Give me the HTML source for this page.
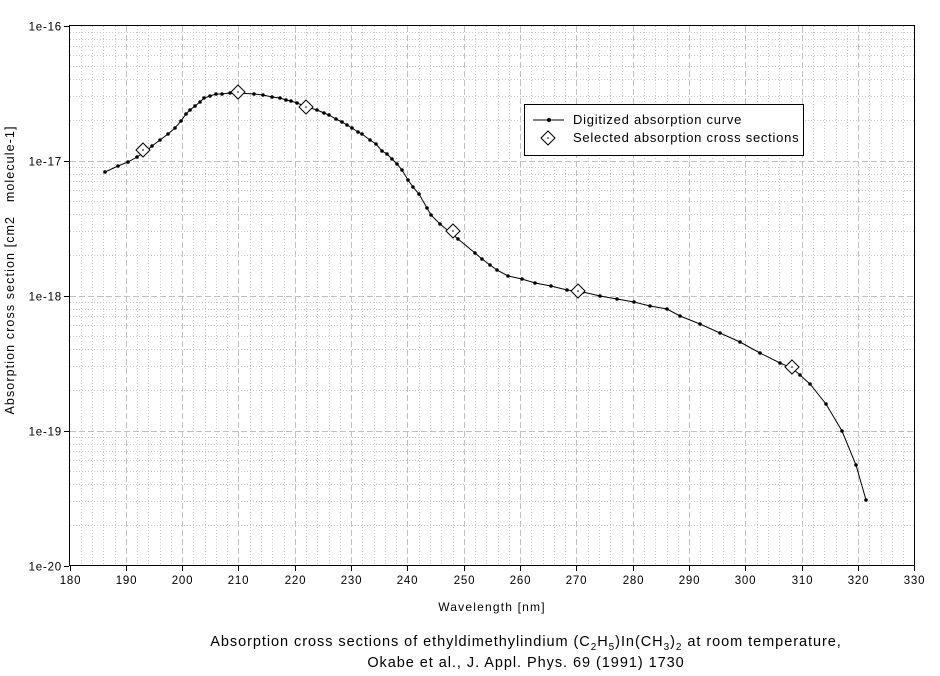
<!DOCTYPE html>
<html><head><meta charset="utf-8"><style>body{margin:0;background:#fff}svg{display:block;font-family:"Liberation Sans",sans-serif}</style></head><body>
<svg id="s" width="940" height="676" xmlns="http://www.w3.org/2000/svg">
<g id="grid"></g>
<rect x="69.5" y="25.5" width="845" height="540" fill="none" stroke="#000" stroke-width="1"/>
<g id="ticks" font-size="11.5" letter-spacing="0.8"></g>
<polyline id="curve" fill="none" stroke="#000" stroke-width="1"/>
<g id="pts"></g>
<g id="dia" fill="#fff" stroke="#000"></g>
<rect x="524.5" y="104.5" width="279" height="51" fill="#fff" stroke="#000"/>
<line x1="533" y1="120" x2="564" y2="120" stroke="#000"/><circle cx="549" cy="120" r="2"/>
<text x="573" y="124" font-size="13" letter-spacing="0.75">Digitized absorption curve</text>
<path d="M548 131l7 7-7 7-7-7z" fill="#fff" stroke="#000"/><circle cx="548" cy="138" r="0.8"/>
<text x="573" y="142" font-size="13" letter-spacing="0.75">Selected absorption cross sections</text>
<text x="492" y="611" font-size="12" letter-spacing="1.2" text-anchor="middle">Wavelength [nm]</text>
<text transform="translate(14,270) rotate(-90)" font-size="12.5" letter-spacing="1.1" text-anchor="middle" xml:space="preserve">Absorption cross section [cm2   molecule-1]</text>
<text x="526" y="646" font-size="14.5" letter-spacing="0.95" text-anchor="middle">Absorption cross sections of ethyldimethylindium (C<tspan font-size="10" dy="4">2</tspan><tspan dy="-4">H</tspan><tspan font-size="10" dy="4">5</tspan><tspan dy="-4">)In(CH</tspan><tspan font-size="10" dy="4">3</tspan><tspan dy="-4">)</tspan><tspan font-size="10" dy="4">2</tspan><tspan dy="-4"> at room temperature,</tspan></text>
<text x="526" y="667" font-size="14.5" letter-spacing="0.95" text-anchor="middle">Okabe et al., J. Appl. Phys. 69 (1991) 1730</text>
</svg>
<script>
var NS="http://www.w3.org/2000/svg",g=document.getElementById('grid'),t=document.getElementById('ticks');
function el(p,tag,a,txt){var e=document.createElementNS(NS,tag);for(var k in a)e.setAttribute(k,a[k]);if(txt)e.textContent=txt;p.appendChild(e);return e;}
var X=function(n){return 69.5+(n-180)*5.633},Y0=25.5,D=135;
for(var n=182;n<330;n+=2){var x=Math.round(X(n))+0.5;if(n%10==0)el(g,'line',{x1:x,y1:26,x2:x,y2:565,stroke:'#c0c0c0','stroke-dasharray':'6,3'});else el(g,'line',{x1:x,y1:26,x2:x,y2:565,stroke:'#c8c8c8','stroke-dasharray':'1,2'});}
for(var d=0;d<4;d++){for(var m=1;m<10;m++){var y=Math.round(Y0+D*(d+1)-D*Math.log10(m))+0.5;if(m==1){if(d<3)el(g,'line',{x1:70,y1:y,x2:914,y2:y,stroke:'#c0c0c0','stroke-dasharray':'6,3'});}else el(g,'line',{x1:70,y1:y,x2:914,y2:y,stroke:'#c8c8c8','stroke-dasharray':'1,2'});}}
for(var n=180;n<=330;n+=10){var x=Math.round(X(n))+0.5;el(t,'line',{x1:x,y1:566,x2:x,y2:571,stroke:'#000'});el(t,'text',{x:x,y:584,'text-anchor':'middle'},String(n));}
for(var d=0;d<=4;d++){var y=Math.round(Y0+D*d)+0.5;el(t,'line',{x1:64,y1:y,x2:69,y2:y,stroke:'#000'});el(t,'text',{x:62,y:y+4,'text-anchor':'end'},'1e-'+(16+d));}
var P=[[105,172],[118,166],[128,162],[137,157],[145,152],[152,146],[160,140],[168,134],[175,128],[181,121],[186,114],[190,110],[195,106],[200,102],[204,98],[210,96],[216,94],[222,94],[230,93],[238,93],[254,94],[263,95],[272,97],[280,98],[286,100],[291,101],[297,103],[307,107],[317,110],[324,113],[329,115],[336,119],[342,122],[347,125],[352,128],[358,132],[362,134],[370,140],[376,144],[382,151],[387,154],[392,159],[397,164],[402,170],[408,180],[413,187],[419,194],[427,208],[431,215],[440,224],[451,233],[458,239],[475,253],[482,259],[490,265],[497,270],[508,276],[522,279],[535,283],[551,286],[567,290],[583,292],[600,296],[617,299],[634,302],[650,306],[667,309],[680,316],[700,324],[720,333],[740,342],[760,353],[780,363],[792,368],[800,375],[810,384],[826,404],[842,431],[856,465],[866,500]];
document.getElementById('curve').setAttribute('points',P.map(function(p){return p.join(',')}).join(' '));
var pts=document.getElementById('pts');P.forEach(function(p){el(pts,'circle',{cx:p[0],cy:p[1],r:1.8});});
var dia=document.getElementById('dia');[[143,150],[238,92],[306,107],[453,231],[578,291],[792,367]].forEach(function(p){el(dia,'path',{d:'M'+p[0]+' '+(p[1]-7)+'l7 7-7 7-7-7z'});el(dia,'circle',{cx:p[0],cy:p[1],r:0.8,fill:'#000',stroke:'none'});});
</script>
</body></html>
